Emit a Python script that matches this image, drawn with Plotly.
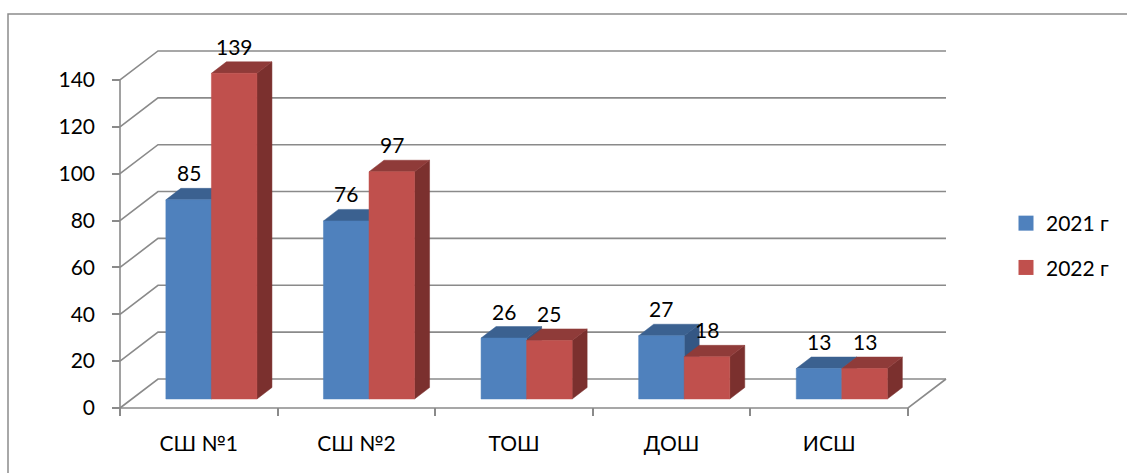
import plotly.graph_objects as go

# ---------------- data ----------------
categories = ["СШ №1", "СШ №2", "ТОШ", "ДОШ", "ИСШ"]
series_names = ["2021 г", "2022 г"]
values_2021 = [85, 76, 26, 27, 13]
values_2022 = [139, 97, 25, 18, 13]
y_ticks = [0, 20, 40, 60, 80, 100, 120, 140]

# ---------------- styling / geometry ----------------
W, H = 1127, 473
L, R, T, B = 112, 177, 10, 57
plot_w, plot_h = W - L - R, H - T - B
PX_U = 157.6      # pixels per category
PX_V = 2.343      # pixels per value unit
x_min = -8 / PX_U
y_min = -8 / PX_V
x_max = x_min + plot_w / PX_U
y_max = y_min + plot_h / PX_V

DX, DY = 38 / PX_U, 29 / PX_V          # wall depth
BAR_OFF, BAR_W = 0.291, 0.289          # bar position inside category
BAR_BASE = 9 / PX_V
BDX, BDY = 15 / PX_U, 11.5 / PX_V      # bar depth

GRID = "#8a8a8a"
FONT = "Lato, 'Noto Sans', sans-serif"
FS = 21
colors = {
    0: dict(front="#4F81BD", top="#3B6190", side="#345784"),
    1: dict(front="#C0504D", top="#8F3B39", side="#7B302E"),
}

fig = go.Figure()

n = len(categories)
# back wall gridlines and left wall diagonals
for v in y_ticks:
    fig.add_trace(go.Scatter(
        x=[0, DX, n + DX], y=[v, v + DY, v + DY], mode="lines",
        line=dict(color=GRID, width=1.6), hoverinfo="skip", showlegend=False))
# floor front edge
fig.add_trace(go.Scatter(
    x=[0, n, n + DX], y=[0, 0, DY], mode="lines",
    line=dict(color=GRID, width=1.6), hoverinfo="skip", showlegend=False))
# front vertical axis
fig.add_trace(go.Scatter(
    x=[0, 0], y=[0, y_ticks[-1]], mode="lines",
    line=dict(color=GRID, width=1.6), hoverinfo="skip", showlegend=False))

annotations = []
series = [values_2021, values_2022]
for i in range(n):
    for s, vals in enumerate(series):
        val = vals[i]
        xl = i + BAR_OFF + s * BAR_W
        xr = xl + BAR_W
        yb = BAR_BASE
        yt = BAR_BASE + val
        c = colors[s]
        side = ([xr, xr + BDX, xr + BDX, xr, xr], [yb, yb + BDY, yt + BDY, yt, yb])
        top = ([xl, xr, xr + BDX, xl + BDX, xl], [yt, yt, yt + BDY, yt + BDY, yt])
        front = ([xl, xr, xr, xl, xl], [yb, yb, yt, yt, yb])
        for (px, py), col in ((side, c["side"]), (top, c["top"]), (front, c["front"])):
            fig.add_trace(go.Scatter(
                x=px, y=py, mode="lines", fill="toself", fillcolor=col,
                line=dict(color=col, width=0.5), hoverinfo="skip", showlegend=False))
        annotations.append(dict(
            x=(xl + xr) / 2, y=yt, xref="x", yref="y", text=str(val),
            showarrow=False, yshift=27, font=dict(family=FONT, size=FS, color="black")))

# legend entries
for s, name in enumerate(series_names):
    fig.add_trace(go.Scatter(
        x=[None], y=[None], mode="markers", name=name, legendgroup=name,
        marker=dict(symbol="square", size=15, color=colors[s]["front"])))

# outer border
def pxx(p):
    return (p - L) / plot_w

def pxy(p):
    return (H - B - p) / plot_h

fig.add_shape(type="rect", xref="paper", yref="paper",
              x0=pxx(8), x1=pxx(1140), y0=pxy(490), y1=pxy(14),
              line=dict(color="#8c8c8c", width=1.5), layer="below")

fig.update_layout(
    width=W, height=H,
    margin=dict(l=L, r=R, t=T, b=B, pad=0),
    paper_bgcolor="white", plot_bgcolor="white",
    font=dict(family=FONT, size=FS, color="black"),
    annotations=annotations,
    showlegend=True,
    legend=dict(x=pxx(1006), y=pxy(203), xanchor="left", yanchor="top",
                font=dict(family=FONT, size=FS, color="black"),
                tracegroupgap=14, bgcolor="rgba(0,0,0,0)"),
    xaxis=dict(range=[x_min, x_max], showgrid=False, zeroline=False, showline=False,
               tickmode="array", tickvals=[i + 0.5 for i in range(n)], ticktext=categories,
               ticks="", ticklabelstandoff=13,
               minor=dict(tickmode="array", tickvals=list(range(n + 1)), ticks="inside",
                          ticklen=8, tickwidth=1.6, tickcolor=GRID, showgrid=False),
               fixedrange=True),
    yaxis=dict(range=[y_min, y_max], showgrid=False, zeroline=False, showline=False,
               tickmode="array", tickvals=y_ticks, ticks="inside", ticklen=8,
               tickwidth=1.6, tickcolor=GRID, ticklabelstandoff=16, fixedrange=True),
)

fig.write_html("out.html", config={"displayModeBar": False},
               post_script="document.body.style.margin='0';")
